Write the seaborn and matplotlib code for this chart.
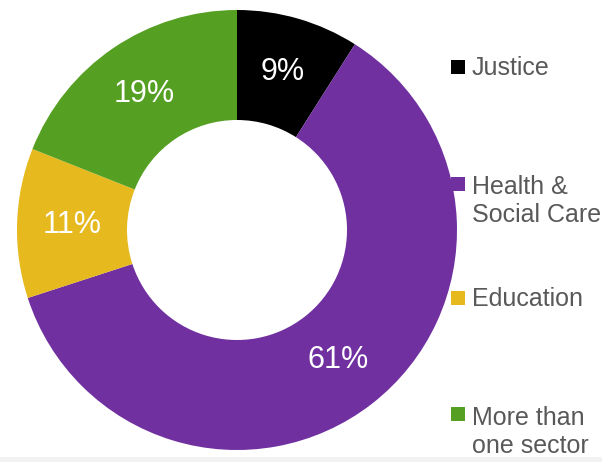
import matplotlib
matplotlib.use("Agg")
import matplotlib.pyplot as plt
import seaborn as sns
from matplotlib.patches import Rectangle

sectors = ["Justice", "Health &\nSocial Care", "Education", "More than\none sector"]
shares = [9, 61, 11, 19]
colors = ["#000000", "#7030A0", "#E6B91E", "#55A022"]

sns.set_theme(style="white")
plt.rcParams["font.family"] = ["Liberation Sans", "DejaVu Sans"]

W, H = 602, 462
fig = plt.figure(figsize=(W / 100, H / 100), dpi=100)
fig.patch.set_facecolor("white")
ax = fig.add_axes([0, 0, 1, 1])

wedges, texts, autotexts = ax.pie(
    shares,
    colors=colors,
    startangle=90,
    counterclock=False,
    center=(237, H - 230),
    radius=220,
    wedgeprops=dict(width=110, edgecolor="none", linewidth=0),
    autopct=lambda p: f"{p:.0f}%",
    pctdistance=0.75,
    textprops=dict(color="white", fontsize=22,
                   family=["Liberation Sans Narrow", "Liberation Sans"]),
)
for t in autotexts:
    t.set_ha("center")
    t.set_va("center")

ax.set_xlim(0, W)
ax.set_ylim(0, H)
ax.set_aspect("equal")
ax.axis("off")

# bottom grey strip
fig.patches.append(Rectangle((0, 0), 1, 5 / H, transform=fig.transFigure,
                             facecolor="#F2F2F2", edgecolor="none", zorder=0))

# legend
sq_centers = [67, 184, 298, 414]
baselines = [75, 222, 306, 453]
for lab, col, yc, yb in zip(sectors, colors, sq_centers, baselines):
    ax.add_patch(Rectangle((451, H - yc - 7), 14, 14, facecolor=col, edgecolor="none"))
    ax.text(472, H - yb, lab, ha="left", va="baseline", fontsize=18,
            color="#595959", linespacing=1.2)

fig.savefig("out.png", dpi=100)
